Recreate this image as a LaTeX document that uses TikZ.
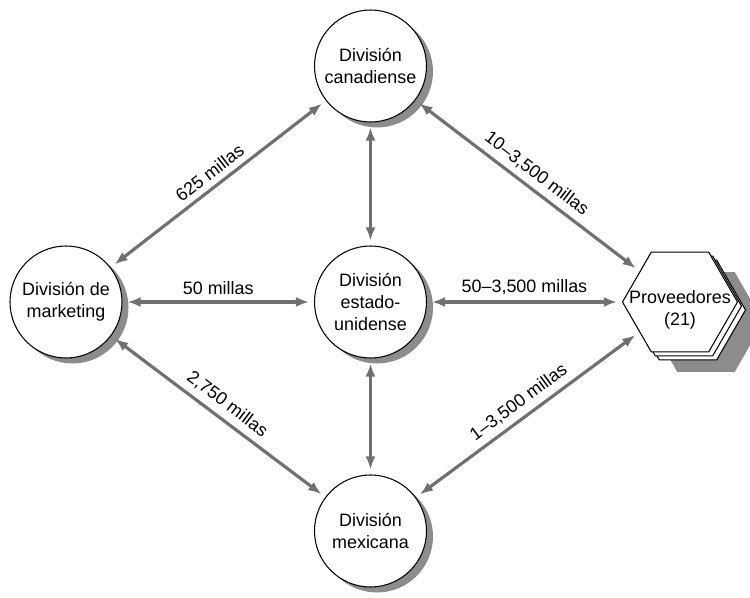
\documentclass[tikz,border=0pt]{standalone}
\usepackage{fontspec}
\setmainfont{Liberation Sans}
\usetikzlibrary{arrows.meta,shapes.geometric,shadows}
\definecolor{linkgray}{RGB}{112,112,112}
\definecolor{shadegray}{RGB}{140,140,140}

\begin{document}
\begin{tikzpicture}[every node/.style={font=\fontsize{10.2}{12.5}\selectfont, align=center},
  division/.style={circle, draw, line width=0.6pt, fill=white, inner sep=0pt, minimum size=2.24cm,
    drop shadow={shadow xshift=0.13cm, shadow yshift=-0.11cm, fill=shadegray, opacity=1}},
  hexa/.style={regular polygon, regular polygon sides=6, draw, line width=0.6pt, fill=white, inner sep=0pt, minimum size=2.3cm},
  link/.style={{Latex[length=0.26cm,width=0.2cm]}-{Latex[length=0.26cm,width=0.2cm]}, linkgray, line width=1.8pt, shorten <=0.1cm, shorten >=0.1cm},
  dist/.style={midway, above, sloped, text=black}]
  \useasboundingbox (0,0) rectangle (15,11.94);
  % divisions
  \node[division] (can) at (7.41,10.62) {División\\canadiense};
  \node[division] (mkt) at (1.32,5.9) {División de\\marketing};
  \node[division] (usa) at (7.41,5.9) {División\\estado-\\unidense};
  \node[division] (mex) at (7.41,1.32) {División\\mexicana};
  % stacked suppliers
  \node[hexa, draw=none, fill=shadegray] (provshade) at (14.12,5.5) {};
  \node[hexa] (prov3) at (13.76,5.74) {};
  \node[hexa] (prov2) at (13.68,5.82) {};
  \node[hexa] (prov) at (13.6,5.9) {};
  \node (provtext) at ([yshift=-0.15cm]prov.center) {Proveedores\\(21)};
  % distances
  \draw[link] (mkt) -- (can) node[dist] {625 millas};
  \draw[link] (can) -- (prov) node[dist] {10–3,500 millas};
  \draw[link] (mkt) -- (usa) node[dist] {50 millas};
  \draw[link] (usa) -- (prov) node[dist] {50–3,500 millas};
  \draw[link] (mkt) -- (mex) node[dist] {2,750 millas};
  \draw[link] (mex) -- (prov) node[dist] {1–3,500 millas};
  \draw[link] (can) -- (usa);
  \draw[link] (usa) -- (mex);
\end{tikzpicture}
\end{document}
